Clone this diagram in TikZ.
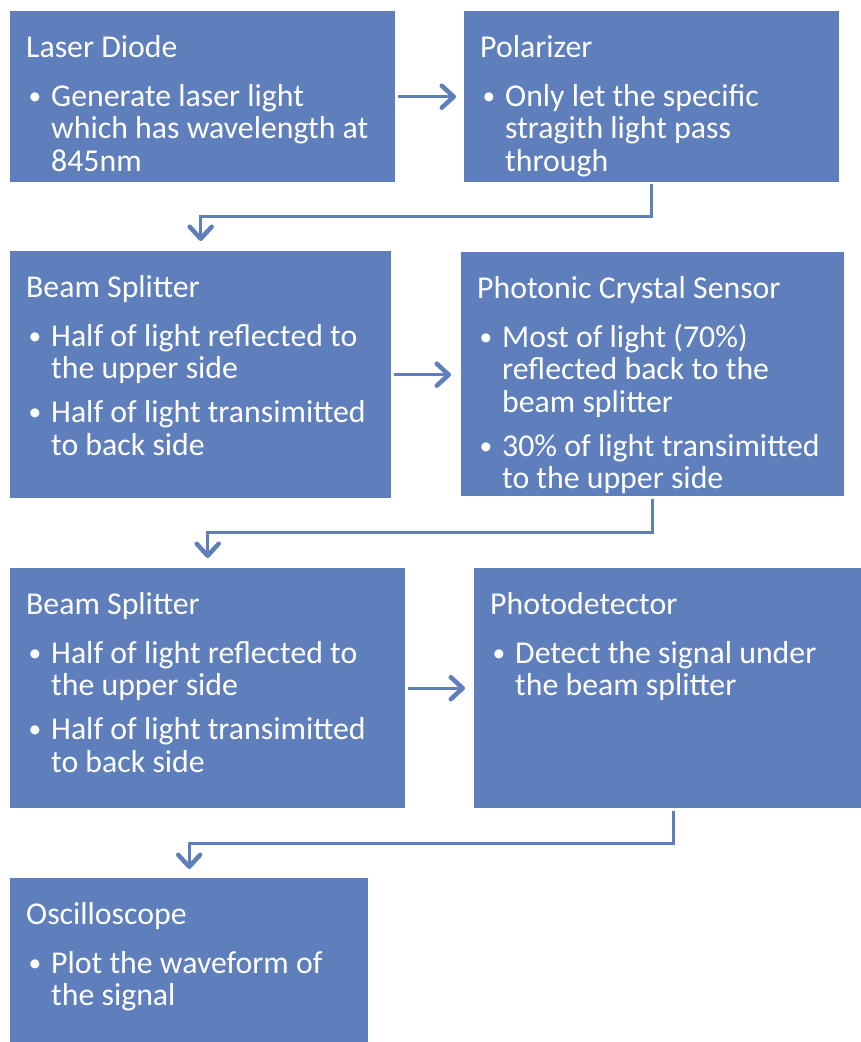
\documentclass[tikz,border=0pt]{standalone}
\usepackage{fontspec}
\setmainfont{Carlito}
\usetikzlibrary{arrows.meta,calc}
\definecolor{boxblue}{RGB}{94,126,188}
\newcommand{\bul}{\rule{0pt}{26pt}\makebox[21pt][l]{\hspace*{-1.5pt}\raisebox{1.5pt}{\scalebox{0.8}{\textbullet}}}}
\newcommand{\ind}{\hspace*{21pt}}
\tikzset{
  box/.style={fill=boxblue, draw=none, inner sep=0pt, anchor=north west},
  ttl/.style={text=white, inner sep=0pt, anchor=base west, font=\fontsize{31.8}{32}\selectfont},
  bdy/.style={text=white, inner sep=0pt, anchor=north west, align=left, font=\fontsize{31.8}{32.6}\selectfont},
  arr/.style={draw=boxblue, line width=3pt, -{Straight Barb[length=12pt,width=22pt,line width=4.5pt,round]}}
}
\begin{document}
\begin{tikzpicture}[x=1pt,y=-1pt]
\useasboundingbox (0,0) rectangle (860,1042);
% boxes
\node[box, minimum width=385pt, minimum height=171pt] (b1) at (10,11) {};
\node[box, minimum width=375pt, minimum height=171pt] (b2) at (464,11) {};
\node[box, minimum width=381pt, minimum height=247pt] (b3) at (10,251) {};
\node[box, minimum width=383pt, minimum height=244pt] (b4) at (461,252) {};
\node[box, minimum width=395pt, minimum height=240pt] (b5) at (10,568) {};
\node[box, minimum width=398pt, minimum height=240pt] (b6) at (474,568) {};
\node[box, minimum width=358pt, minimum height=164pt] (b7) at (10,878) {};
% titles
\node[ttl] (t1) at ([xshift=16pt,yshift=-46pt]b1.north west) {Laser Diode};
\node[ttl] (t2) at ([xshift=16pt,yshift=-46pt]b2.north west) {Polarizer};
\node[ttl] (t3) at ([xshift=16pt,yshift=-46pt]b3.north west) {Beam Splitter};
\node[ttl] (t4) at ([xshift=16pt,yshift=-46pt]b4.north west) {Photonic Crystal Sensor};
\node[ttl] (t5) at ([xshift=16pt,yshift=-46pt]b5.north west) {Beam Splitter};
\node[ttl] (t6) at ([xshift=16pt,yshift=-46pt]b6.north west) {Photodetector};
\node[ttl] (t7) at ([xshift=16pt,yshift=-46pt]b7.north west) {Oscilloscope};
% bodies (first baseline = title baseline + 48)
\node[bdy] (d1) at ([xshift=20pt,yshift=-69pt]b1.north west)
  {\bul Generate laser light\\ \ind which has wavelength at\\ \ind 845nm};
\node[bdy] (d2) at ([xshift=20pt,yshift=-69pt]b2.north west)
  {\bul Only let the specific\\ \ind stragith light pass\\ \ind through};
\node[bdy] (d3) at ([xshift=20pt,yshift=-69pt]b3.north west)
  {\bul Half of light reflected to\\ \ind the upper side\\[11pt] \bul Half of light transimitted\\ \ind to back side};
\node[bdy] (d4) at ([xshift=20pt,yshift=-69pt]b4.north west)
  {\bul Most of light (70\%)\\ \ind reflected back to the\\ \ind beam splitter\\[11pt] \bul 30\% of light transimitted\\ \ind to the upper side};
\node[bdy] (d5) at ([xshift=20pt,yshift=-69pt]b5.north west)
  {\bul Half of light reflected to\\ \ind the upper side\\[11pt] \bul Half of light transimitted\\ \ind to back side};
\node[bdy] (d6) at ([xshift=20pt,yshift=-69pt]b6.north west)
  {\bul Detect the signal under\\ \ind the beam splitter};
\node[bdy] (d7) at ([xshift=20pt,yshift=-69pt]b7.north west)
  {\bul Plot the waveform of\\ \ind the signal};
% horizontal arrows
\draw[arr, shorten <=2.5pt, shorten >=8pt] (b1.east) -- (b1.east -| b2.west);
\draw[arr, shorten <=3pt, shorten >=10pt] (b3.east) -- (b3.east -| b4.west);
\draw[arr, shorten <=3pt, shorten >=9pt] (b5.east) -- (b5.east -| b6.west);
% elbow connectors
\draw[arr, shorten <=2pt, shorten >=10pt] (b2.south) |- ($(b2.south)!0.5!(b3.north)$) -| (b3.north);
\draw[arr, shorten <=3pt, shorten >=10pt] (b4.south) |- ($(b4.south)!0.5!(b5.north)$) -| (b5.north);
\draw[arr, shorten <=3pt, shorten >=9pt] (b6.south) |- ($(b6.south)!0.5!(b7.north)$) -| (b7.north);
\end{tikzpicture}
\end{document}
